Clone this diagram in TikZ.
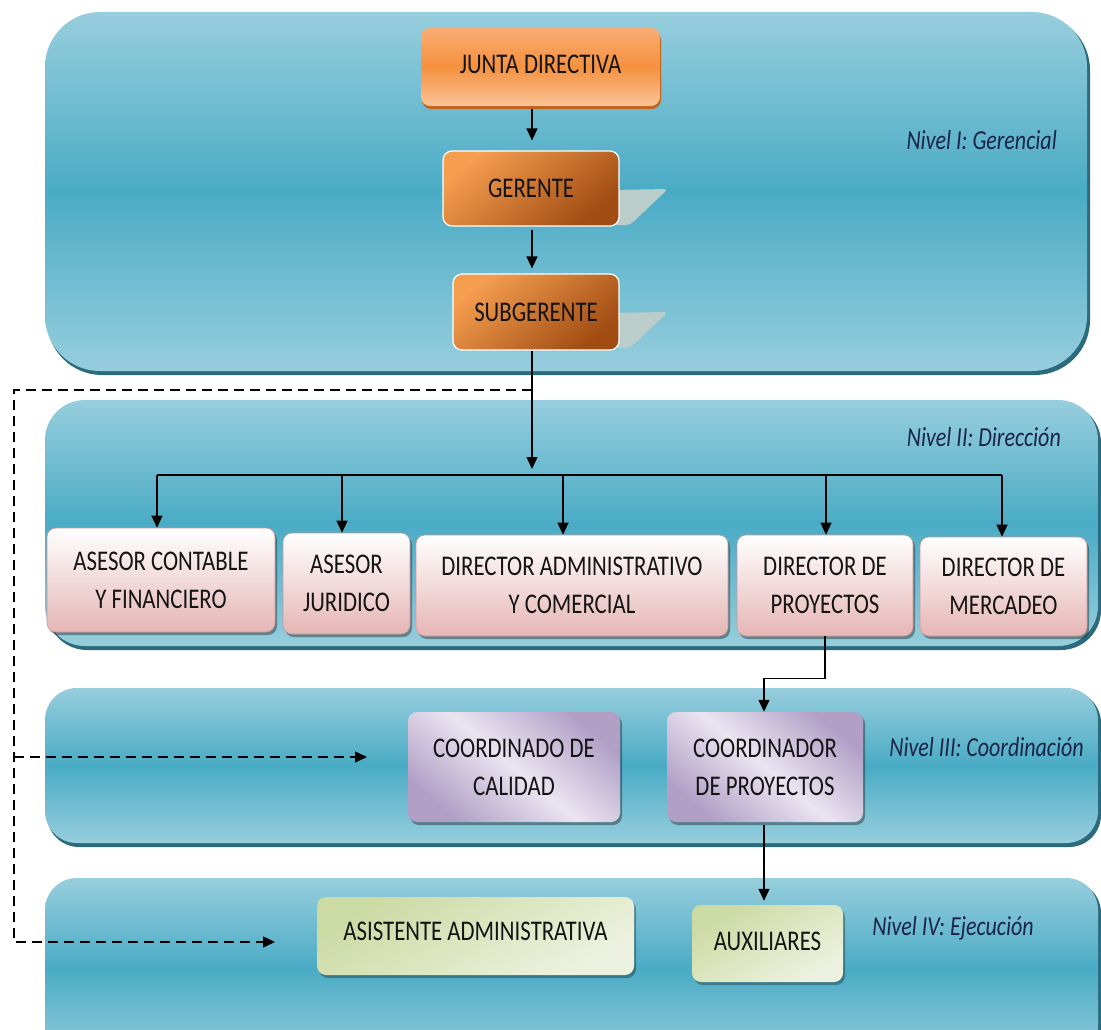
\documentclass[tikz,border=0pt]{standalone}
\usepackage{fontspec}
\setmainfont{Carlito}[FakeStretch=0.8]
\usetikzlibrary{arrows.meta,calc,shadows}
\definecolor{panL}{HTML}{97CEDD}
\definecolor{panM}{HTML}{4AABC5}
\definecolor{panS}{HTML}{2C6B7D}
\definecolor{txt}{HTML}{141414}
\definecolor{lvl}{HTML}{1B2447}
\definecolor{orT}{HTML}{F9AC72}
\definecolor{orM}{HTML}{F5913F}
\definecolor{orB}{HTML}{FAC397}
\definecolor{orS}{HTML}{C0651E}
\definecolor{brL}{HTML}{F59E50}
\definecolor{brD}{HTML}{A04C12}
\definecolor{pkB}{HTML}{E5B6B5}
\definecolor{pkD}{HTML}{D49391}
\definecolor{puD}{HTML}{B19FC6}
\definecolor{puL}{HTML}{EAE5F1}
\definecolor{grD}{HTML}{CCDAA3}
\definecolor{grL}{HTML}{EDF2E0}
\definecolor{shg}{HTML}{BACDCB}
\tikzset{
  x=1pt,y=-1pt,
  panel/.style={top color=panL,bottom color=panL,middle color=panM},
  pshadow/.style={fill=panS},
  box/.style={rectangle,rounded corners=9pt,align=center,text=txt,inner sep=0pt,
    font=\fontsize{28.5}{38}\selectfont},
  jdbox/.style={box,top color=orT,bottom color=orB,middle color=orM,
    drop shadow={shadow xshift=1pt,shadow yshift=-3pt,fill=orS,opacity=1}},
  brbox/.style={box,draw=white,line width=1.2pt,top color=brL,bottom color=brD,shading angle=40},
  pkbox/.style={box,draw=pkD,line width=0.6pt,top color=white,bottom color=pkB,
    drop shadow={shadow xshift=2pt,shadow yshift=-3pt,fill=black,opacity=0.35}},
  pubox/.style={box,top color=puD,bottom color=puD,middle color=puL,shading angle=-40,
    drop shadow={shadow xshift=2pt,shadow yshift=-3pt,fill=black,opacity=0.35}},
  grbox/.style={box,top color=grL,bottom color=grD,shading angle=-150,
    drop shadow={shadow xshift=2pt,shadow yshift=-3pt,fill=black,opacity=0.3}},
  lvltxt/.style={anchor=east,text=lvl,inner sep=0pt,font=\itshape\fontsize{27.5}{30}\selectfont},
  arr/.style={-{Triangle[length=12pt,width=11pt]},line width=1.4pt,black},
  darr/.style={-{Triangle[length=12pt,width=11pt]},line width=1.5pt,black,dash pattern=on 10pt off 6pt},
  bus/.style={line width=1.4pt,black}
}
\begin{document}
\begin{tikzpicture}
\useasboundingbox (0,0) rectangle (1101,1030);
\clip (0,0) rectangle (1101,1030);
\fill[white] (0,0) rectangle (1101,1030);
% panels
\fill[pshadow,rounded corners=55pt] (47,15) rectangle (1090,375);
\shade[panel,rounded corners=55pt] (45,12) rectangle (1087,371);
\fill[pshadow,rounded corners=40pt] (47,403) rectangle (1101,650);
\shade[panel,rounded corners=40pt] (45,400) rectangle (1098,646);
\fill[pshadow,rounded corners=32pt] (47,691) rectangle (1101,847);
\shade[panel,rounded corners=32pt] (45,688) rectangle (1098,843);
\fill[pshadow,rounded corners=32pt] (47,881) rectangle (1101,1060);
\shade[panel,rounded corners=32pt] (45,878) rectangle (1098,1060);
% gray side shadows
\fill[shg,rounded corners=4pt] (612,190) -- (668,189) -- (630,225) -- (612,225) -- cycle;
\fill[shg,rounded corners=4pt] (612,313) -- (668,312) -- (630,348) -- (612,348) -- cycle;
% level I
\node[jdbox,minimum width=239,minimum height=78] (jd) at (540.5,67) {\raisebox{5pt}{JUNTA DIRECTIVA}};
\node[brbox,minimum width=176,minimum height=75] (ger) at (531,188.5) {GERENTE};
\node[brbox,minimum width=166,minimum height=76] (sub) at (536,312) {SUBGERENTE};
% level II
\node[pkbox,minimum width=228,minimum height=104] (ac) at (161,580) {ASESOR CONTABLE\\Y FINANCIERO};
\node[pkbox,minimum width=127,minimum height=101] (aj) at (346.5,583.5) {ASESOR\\JURIDICO};
\node[pkbox,minimum width=312,minimum height=101] (da) at (572,585.5) {DIRECTOR ADMINISTRATIVO\\Y COMERCIAL};
\node[pkbox,minimum width=176,minimum height=101] (dp) at (825,585.5) {DIRECTOR DE\\PROYECTOS};
\node[pkbox,minimum width=167,minimum height=99] (dm) at (1003.5,586.5) {DIRECTOR DE\\MERCADEO};
% level III
\node[pubox,minimum width=212,minimum height=110] (cc) at (514,767) {COORDINADO DE\\CALIDAD};
\node[pubox,minimum width=196,minimum height=110] (cp) at (765,767) {COORDINADOR\\DE PROYECTOS};
% level IV
\node[grbox,minimum width=317,minimum height=78] (aa) at (475.5,936) {\raisebox{9pt}{ASISTENTE ADMINISTRATIVA}};
\node[grbox,minimum width=151,minimum height=77] (au) at (767.5,943.5) {\raisebox{4pt}{AUXILIARES}};
% level labels
\node[lvltxt] (l1) at (1057,140) {Nivel I: Gerencial};
\node[lvltxt] (l2) at (1061,437) {Nivel II: Dirección};
\node[lvltxt] (l3) at (1084,747) {Nivel III: Coordinación};
\node[lvltxt] (l4) at (1034,928) {Nivel IV: Ejecución};
% connectors
\coordinate (busC) at (532,475);
\coordinate (busL) at (157,475);
\coordinate (busR) at (1002,475);
\coordinate (d2) at (342,475);
\coordinate (d3) at (563,475);
\coordinate (d4) at (826,475);
\coordinate (dstart) at (532,390);
\coordinate (dleft) at (14,390);
\coordinate (dc3) at (367,757);
\coordinate (dc4) at (275,942);
\draw[arr,shorten <=3pt,shorten >=10pt] (busC |- jd.south) -- (busC |- ger.north);
\draw[arr,shorten <=3pt,shorten >=5pt] (busC |- ger.south) -- (busC |- sub.north);
\draw[arr,shorten >=6pt] (busC |- sub.south) -- (busC);
\draw[bus] (busL) -- (busR);
\draw[arr] (busL) -- (busL |- ac.north);
\draw[arr] (d2) -- (d2 |- aj.north);
\draw[arr] (d3) -- (d3 |- da.north);
\draw[arr] (d4) -- (d4 |- dp.north);
\draw[arr] (busR) -- (busR |- dm.north);
\draw[arr] (dp.south) -- ++(0,42) -| ([xshift=-1pt]cp.north);
\draw[arr,shorten <=3pt,shorten >=4pt] ([xshift=-1pt]cp.south) -- ([xshift=-1pt]cp.south |- au.north);
\draw[darr] (dstart) -- (dleft) |- (dc4);
\draw[darr] (dleft |- dc3) -- (dc3);
\end{tikzpicture}
\end{document}
